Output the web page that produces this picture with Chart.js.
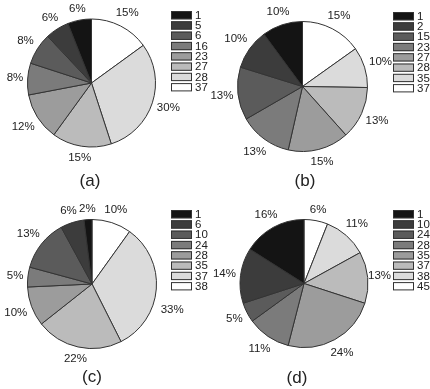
<!DOCTYPE html>
<html>
<head>
<meta charset="utf-8">
<script src="https://cdn.jsdelivr.net/npm/chart.js@4.4.1/dist/chart.umd.min.js"></script>
<style>
  body { margin: 0; background: #fff; }
  #wrap { position: relative; width: 430px; height: 389px; }
  #wrap canvas { position: absolute; left: 0; top: 0; }
</style>
</head>
<body>
<div id="wrap">
  <canvas id="pieA" width="430" height="389"></canvas>
  <canvas id="pieB" width="430" height="389"></canvas>
  <canvas id="pieC" width="430" height="389"></canvas>
  <canvas id="pieD" width="430" height="389"></canvas>
</div>
<script>
// Legend categories (top to bottom, as shown in each legend)
const labelsA = ['1', '5', '6', '16', '23', '27', '28', '37'];
const labelsB = ['1', '2', '15', '23', '27', '28', '35', '37'];
const labelsC = ['1', '6', '10', '24', '28', '35', '37', '38'];
const labelsD = ['1', '10', '24', '28', '35', '37', '38', '45'];

// Percentages, same order as the legend
const valuesA = [6, 6, 8, 8, 12, 15, 30, 15];
const valuesB = [10, 10, 13, 13, 15, 13, 10, 15];
const valuesC = [2, 6, 13, 5, 10, 22, 33, 10];
const valuesD = [16, 14, 5, 11, 24, 13, 11, 6];

// Grey ramp, dark to light (legend order)
const greys = ['#141414', '#3c3c3c', '#5b5b5b', '#7b7b7b', '#9c9c9c', '#bbbbbb', '#dbdbdb', '#ffffff'];

const FONT = '"Liberation Sans", Arial, Helvetica, sans-serif';
const NARROW = '"Liberation Sans Narrow", "Liberation Sans", Arial, sans-serif';
const ROW = 10.3;   // legend row height

// Percent labels outside each slice + legend + panel caption
const pieExtras = {
    id: 'pieExtras',
    afterDraw(chart, args, opts) {
        const ctx = chart.ctx;
        const arcs = chart.getDatasetMeta(0).data;
        const ds = chart.data.datasets[0];
        const lg = opts.legend;
        const lgBottom = lg.y + opts.labels.length * ROW;
        ctx.save();
        ctx.fillStyle = '#222';
        ctx.font = '11.5px ' + FONT;
        ctx.textAlign = 'center';
        ctx.textBaseline = 'middle';
        arcs.forEach((arc, i) => {
            const mid = (arc.startAngle + arc.endAngle) / 2;
            const txt = ds.data[i] + '%';
            const hw = ctx.measureText(txt).width / 2;
            const cs = Math.cos(mid), sn = Math.sin(mid);
            // text box sits a small gap outside the rim
            const r = arc.outerRadius + 4 + hw * Math.abs(cs) + 6 * Math.abs(sn);
            let x = arc.x + cs * r;
            let y = arc.y + sn * r;
            // keep clear of the legend: slide left if there is room, else drop below it
            if (x + hw > lg.x && y + 6 > lg.y && y - 6 < lgBottom) {
                const nx = lg.x - 2 - hw;
                const dy = Math.min(Math.abs(y - arc.y), arc.outerRadius);
                const edge = arc.x + Math.sqrt(arc.outerRadius * arc.outerRadius - dy * dy);
                if (nx - hw >= edge - 2) {
                    x = nx;
                } else {
                    y = lgBottom + 17;
                }
            }
            ctx.fillText(txt, x, y);
        });

        // legend, dark first
        ctx.textAlign = 'left';
        ctx.font = '11.5px ' + NARROW;
        opts.labels.forEach((lab, i) => {
            const y = lg.y + i * ROW;
            ctx.fillStyle = greys[i];
            ctx.fillRect(lg.x, y, 21, ROW - 2);
            ctx.strokeStyle = '#333';
            ctx.lineWidth = 1;
            ctx.strokeRect(lg.x + 0.5, y + 0.5, 20, ROW - 3);
            ctx.fillStyle = '#222';
            ctx.fillText(lab, lg.x + 24, y + (ROW - 2) / 2 + 0.5);
        });

        // caption
        ctx.textAlign = 'center';
        ctx.font = '17px ' + FONT;
        ctx.fillText(opts.caption, opts.capX, opts.capY);
        ctx.restore();
    }
};

// Chart.js draws data clockwise from 12 o'clock in array order,
// the picture starts with the last legend entry, so reverse
function rev(a) { return a.slice().reverse(); }

function build(id, labels, values, pie, legend, caption) {
    const W = 430, H = 389;
    return new Chart(document.getElementById(id), {
        type: 'pie',
        data: {
            labels: rev(labels),
            datasets: [{
                data: rev(values),
                backgroundColor: rev(greys),
                borderColor: '#333',
                borderWidth: 1
            }]
        },
        options: {
            responsive: false,
            animation: false,
            layout: {
                padding: {
                    left: pie.cx - pie.r,
                    top: pie.cy - pie.r,
                    right: W - pie.cx - pie.r,
                    bottom: H - pie.cy - pie.r
                }
            },
            plugins: {
                legend: { display: false },
                tooltip: { enabled: false },
                pieExtras: { labels: labels, legend: legend, caption: caption[0], capX: caption[1], capY: caption[2] }
            }
        },
        plugins: [pieExtras]
    });
}

build('pieA', labelsA, valuesA, { cx: 91.5, cy: 83, r: 64.5 }, { x: 171, y: 11 }, ['(a)', 90, 181]);
build('pieB', labelsB, valuesB, { cx: 302.5, cy: 86.5, r: 65.5 }, { x: 393, y: 12 }, ['(b)', 305, 181]);
build('pieC', labelsC, valuesC, { cx: 92, cy: 284, r: 65 }, { x: 171, y: 210 }, ['(c)', 92, 377]);
build('pieD', labelsD, valuesD, { cx: 304, cy: 283.5, r: 64.5 }, { x: 393, y: 210 }, ['(d)', 297, 378]);
</script>
</body>
</html>
